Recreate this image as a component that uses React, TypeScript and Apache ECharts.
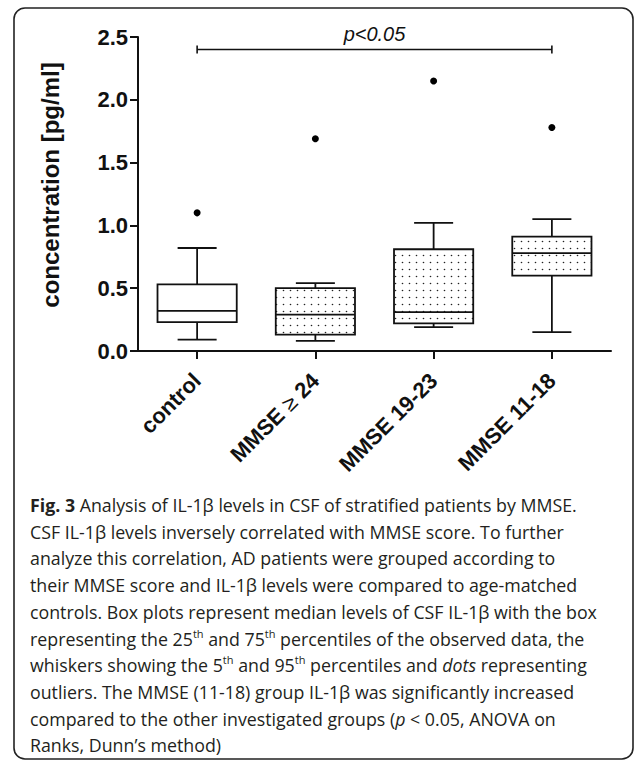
import React, { useEffect, useRef } from "react";
import * as echarts from "echarts";

const categories = ["control", "MMSE ≥ 24", "MMSE 19-23", "MMSE 11-18"];
const whiskerLow = [0.09, 0.08, 0.19, 0.15];
const q1 = [0.23, 0.13, 0.22, 0.6];
const medians = [0.32, 0.29, 0.31, 0.78];
const q3 = [0.53, 0.5, 0.81, 0.91];
const whiskerHigh = [0.82, 0.54, 1.02, 1.05];
const outliers = [1.1, 1.69, 2.15, 1.78];
const dotted = [false, true, true, true];

const yMin = 0;
const yMax = 2.5;
const yInterval = 0.5;

const sigFrom = 0;
const sigTo = 3;
const sigY = 2.4;
const sigLabel = "p<0.05";

const yAxisTitle = "concentration [pg/ml]";

const captionLines = [
  "{b|Fig. 3} Analysis of IL-1β levels in CSF of stratified patients by MMSE.",
  "CSF IL-1β levels inversely correlated with MMSE score. To further",
  "analyze this correlation, AD patients were grouped according to",
  "their MMSE score and IL-1β levels were compared to age-matched",
  "controls. Box plots represent median levels of CSF IL-1β with the box",
  "representing the 25{sup|th} and 75{sup|th} percentiles of the observed data, the",
  "whiskers showing the 5{sup|th} and 95{sup|th} percentiles and {i|dots} representing",
  "outliers. The MMSE (11-18) group IL-1β was significantly increased",
  "compared to the other investigated groups ({i|p} < 0.05, ANOVA on",
  "Ranks, Dunn’s method)",
];

const INK = "#111";
const CAP_FONT = "'Open Sans', 'DejaVu Sans', sans-serif";
const AX_FONT = "'Liberation Sans', Arial, Helvetica, sans-serif";

export default function App() {
  const ref = useRef<HTMLDivElement>(null);

  useEffect(() => {
    if (!ref.current) return;
    const chart = echarts.init(ref.current, undefined, { renderer: "svg" });

    const cv = document.createElement("canvas");
    cv.width = 7;
    cv.height = 7;
    const ctx = cv.getContext("2d");
    if (ctx) {
      ctx.fillStyle = "#fff";
      ctx.fillRect(0, 0, 7, 7);
      ctx.fillStyle = "#222";
      ctx.beginPath();
      ctx.arc(3.5, 3.5, 0.8, 0, Math.PI * 2);
      ctx.fill();
    }
    const dotPattern: any = { image: cv, repeat: "repeat", imageWidth: 7, imageHeight: 7 };

    const boxData = categories.map((_, i) => [i, whiskerLow[i], q1[i], medians[i], q3[i], whiskerHigh[i]]);
    const outlierData = categories.map((_, i) => [i, outliers[i]]);

    const capStyle = { fontSize: 17.8, fontFamily: CAP_FONT, fill: "#231f20" };
    const captionGraphics = captionLines.map((t, i) => ({
      type: "text",
      x: 30,
      y: 505 + i * 26.7,
      style: {
        text: t,
        ...capStyle,
        lineHeight: 22,
        verticalAlign: "middle",
        align: "left",
        rich: {
          b: { ...capStyle, fontWeight: "bold", lineHeight: 22 },
          i: { ...capStyle, fontStyle: "italic", lineHeight: 22 },
          sup: { fontSize: 11, fontFamily: CAP_FONT, fill: "#231f20", lineHeight: 15, verticalAlign: "top" },
        },
      },
    }));

    const option: any = {
      animation: false,
      backgroundColor: "#fff",
      grid: { left: 138, right: 24, top: 37, bottom: 409, outerBoundsMode: "none" },
      xAxis: {
        type: "category",
        data: categories,
        boundaryGap: true,
        axisLine: { show: true, lineStyle: { color: INK, width: 2 } },
        axisTick: { show: true, alignWithLabel: true, length: 8, lineStyle: { color: INK, width: 2 } },
        axisLabel: {
          interval: 0,
          rotate: 45,
          margin: 26,
          color: INK,
          fontSize: 22,
          fontWeight: "bold",
          fontFamily: AX_FONT,
          formatter: (v: string) => v.replace("≥", "{ge|≥}"),
          rich: {
            ge: { fontSize: 22, fontWeight: "normal", fontFamily: AX_FONT, color: INK },
          },
        },
        splitLine: { show: false },
      },
      yAxis: {
        type: "value",
        min: yMin,
        max: yMax,
        interval: yInterval,
        axisLine: { show: true, lineStyle: { color: INK, width: 2 } },
        axisTick: { show: true, length: 8, lineStyle: { color: INK, width: 2 } },
        axisLabel: {
          margin: 10,
          color: INK,
          fontSize: 22,
          fontWeight: "bold",
          fontFamily: AX_FONT,
          formatter: (v: number) => v.toFixed(1),
        },
        splitLine: { show: false },
      },
      graphic: [
        {
          type: "rect",
          z: 0,
          silent: true,
          shape: { x: 14, y: 8, width: 619, height: 751, r: 11 },
          style: { fill: "none", stroke: "#222", lineWidth: 1.6 },
        },
        {
          type: "text",
          x: 50,
          y: 185,
          rotation: Math.PI / 2,
          style: {
            text: yAxisTitle,
            fontSize: 24,
            fontWeight: "bold",
            fontFamily: AX_FONT,
            fill: INK,
            align: "center",
            verticalAlign: "middle",
          },
        },
        ...captionGraphics,
      ],
      series: [
        {
          type: "custom",
          name: "boxes",
          data: boxData,
          encode: { x: 0, y: [1, 2, 3, 4, 5] },
          renderItem: (params: any, api: any) => {
            const i = api.value(0);
            const band = api.size([1, 0])[0];
            const boxW = band * 0.67;
            const capW = band * 0.33;
            const pLow = api.coord([i, api.value(1)]);
            const pQ1 = api.coord([i, api.value(2)]);
            const pMed = api.coord([i, api.value(3)]);
            const pQ3 = api.coord([i, api.value(4)]);
            const pHigh = api.coord([i, api.value(5)]);
            const cx = pMed[0];
            const ls = { stroke: INK, lineWidth: 1.8, fill: "none" };
            return {
              type: "group",
              children: [
                { type: "line", shape: { x1: cx, y1: pQ3[1], x2: cx, y2: pHigh[1] }, style: ls },
                { type: "line", shape: { x1: cx - capW / 2, y1: pHigh[1], x2: cx + capW / 2, y2: pHigh[1] }, style: ls },
                { type: "line", shape: { x1: cx, y1: pQ1[1], x2: cx, y2: pLow[1] }, style: ls },
                { type: "line", shape: { x1: cx - capW / 2, y1: pLow[1], x2: cx + capW / 2, y2: pLow[1] }, style: ls },
                {
                  type: "rect",
                  shape: { x: cx - boxW / 2, y: pQ3[1], width: boxW, height: pQ1[1] - pQ3[1] },
                  style: { fill: dotted[i] ? dotPattern : "#fff", stroke: INK, lineWidth: 1.8 },
                },
                { type: "line", shape: { x1: cx - boxW / 2, y1: pMed[1], x2: cx + boxW / 2, y2: pMed[1] }, style: ls },
              ],
            };
          },
          z: 2,
        },
        {
          type: "scatter",
          name: "outliers",
          data: outlierData,
          symbol: "circle",
          symbolSize: 7,
          itemStyle: { color: "#000", opacity: 1 },
          z: 3,
        },
        {
          type: "custom",
          name: "significance",
          data: [[sigFrom, sigTo, sigY]],
          encode: { x: [0, 1], y: 2 },
          renderItem: (params: any, api: any) => {
            const a = api.coord([api.value(0), api.value(2)]);
            const b = api.coord([api.value(1), api.value(2)]);
            const ls = { stroke: INK, lineWidth: 1.6, fill: "none" };
            return {
              type: "group",
              children: [
                { type: "line", shape: { x1: a[0], y1: a[1], x2: b[0], y2: b[1] }, style: ls },
                { type: "line", shape: { x1: a[0], y1: a[1] - 4, x2: a[0], y2: a[1] + 4 }, style: ls },
                { type: "line", shape: { x1: b[0], y1: b[1] - 4, x2: b[0], y2: b[1] + 4 }, style: ls },
                {
                  type: "text",
                  x: (a[0] + b[0]) / 2,
                  y: a[1] - 16,
                  style: {
                    text: sigLabel,
                    fontSize: 20,
                    fontStyle: "italic",
                    fontFamily: AX_FONT,
                    fill: INK,
                    align: "center",
                    verticalAlign: "middle",
                  },
                },
              ],
            };
          },
          z: 2,
        },
      ],
    };

    chart.setOption(option);
    return () => chart.dispose();
  }, []);

  return (
    <div
      ref={ref}
      style={{ position: "fixed", left: 0, top: 0, width: 635, height: 760, background: "#fff" }}
    />
  );
}
